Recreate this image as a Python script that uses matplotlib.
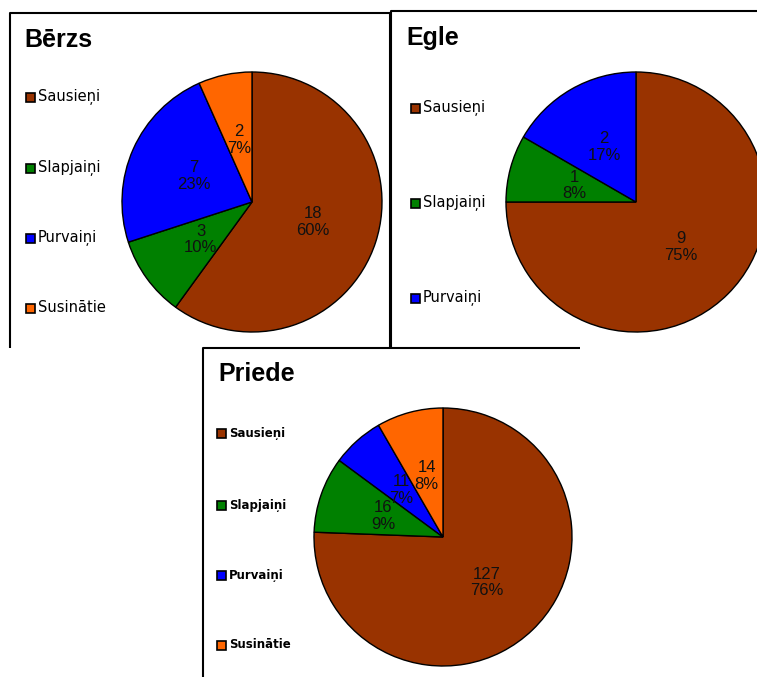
import matplotlib.pyplot as plt
from matplotlib.patches import Rectangle
import numpy as np

plt.rcParams['font.family'] = ['Liberation Sans', 'DejaVu Sans']

# data for the three tree species
berzs_labels = ['Sausieņi', 'Slapjaiņi', 'Purvaiņi', 'Susinātie']
berzs_counts = [18, 3, 7, 2]
berzs_pct = ['60%', '10%', '23%', '7%']

egle_labels = ['Sausieņi', 'Slapjaiņi', 'Purvaiņi']
egle_counts = [9, 1, 2]
egle_pct = ['75%', '8%', '17%']

priede_labels = ['Sausieņi', 'Slapjaiņi', 'Purvaiņi', 'Susinātie']
priede_counts = [127, 16, 11, 14]
priede_pct = ['76%', '9%', '7%', '8%']

colors = {'Sausieņi': '#993300', 'Slapjaiņi': '#008000',
          'Purvaiņi': '#0000FF', 'Susinātie': '#FF6600'}

W, H = 757, 677
fig = plt.figure(figsize=(W / 100, H / 100), dpi=100)
ax = fig.add_axes([0, 0, 1, 1])


def Y(y):
    # top-down pixel position -> axes y
    return H - y


def draw_panel(title, title_xy, labels, counts, pct, center, radius,
               leg_x, leg_ys, leg_fs, leg_weight='normal'):
    cx, cy = center[0], Y(center[1])
    wedges, _ = ax.pie(counts, colors=[colors[l] for l in labels],
                       startangle=90, counterclock=False,
                       center=(cx, cy), radius=radius,
                       wedgeprops=dict(edgecolor='black', linewidth=1.0))
    for w, n, p in zip(wedges, counts, pct):
        th = np.deg2rad((w.theta1 + w.theta2) / 2)
        ax.text(cx + 0.49 * radius * np.cos(th), cy + 0.49 * radius * np.sin(th),
                f"{n}\n{p}", ha='center', va='center', fontsize=12,
                color='#111111', linespacing=1.15)
    ax.text(title_xy[0], Y(title_xy[1]), title, fontsize=18, fontweight='bold',
            ha='left', va='center')
    for lab, ly in zip(labels, leg_ys):
        ax.add_patch(Rectangle((leg_x, Y(ly) - 4.5), 9, 9, facecolor=colors[lab],
                               edgecolor='black', linewidth=1.2))
        ax.text(leg_x + 12, Y(ly), lab, fontsize=leg_fs, fontweight=leg_weight,
                family='DejaVu Sans', ha='left', va='center')


draw_panel('Bērzs', (24, 40), berzs_labels, berzs_counts, berzs_pct,
           (252, 202), 130, 26, [97, 168, 238, 308], 10.5)
draw_panel('Egle', (406, 38), egle_labels, egle_counts, egle_pct,
           (636, 202), 130, 411, [108, 203, 298], 10.5)
draw_panel('Priede', (218, 374), priede_labels, priede_counts, priede_pct,
           (443, 537), 129, 217, [433, 505, 575, 645], 8.5, 'bold')

# panel frames
frame = dict(color='black', linewidth=1.5, solid_capstyle='butt')
ax.plot([10, 10, 390, 390], [Y(348), Y(13), Y(13), Y(348)], **frame)
ax.plot([391, 391, 757], [Y(348), Y(11), Y(11)], **frame)
ax.plot([203, 203, 580], [Y(677), Y(348), Y(348)], **frame)

ax.set_xlim(0, W)
ax.set_ylim(0, H)
ax.set_aspect('equal')
ax.axis('off')

fig.savefig('out.png', dpi=100, facecolor='white')
